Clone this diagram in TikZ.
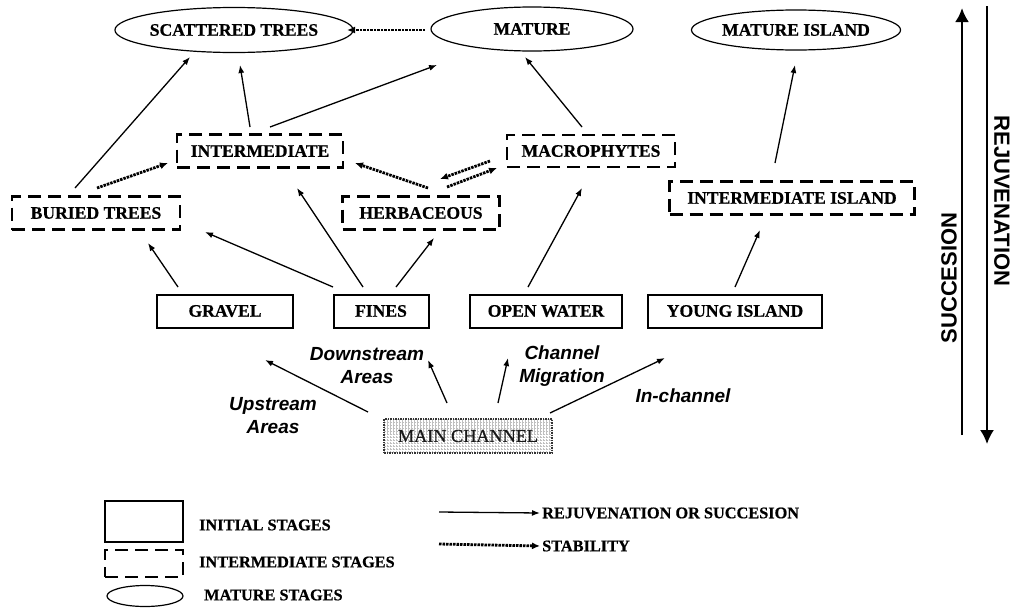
\documentclass[tikz,border=0pt]{standalone}
\usepackage{fontspec}
\setmainfont{Liberation Serif}
\newfontfamily\arialf{Liberation Sans}
\newfontfamily\tnr[FakeBold=0.6]{Liberation Serif}
\usetikzlibrary{shapes.geometric,arrows.meta,calc,patterns}
\begin{document}
\begin{tikzpicture}[x=1pt,y=-1pt,
  lbl/.style={font=\tnr\bfseries\fontsize{17.6}{20}\selectfont, inner sep=0pt, minimum height=33pt},
  initbox/.style={lbl, draw, line width=2pt},
  interbox/.style={lbl, draw, line width=2.6pt, dash pattern=on 13pt off 7pt},
  matell/.style={lbl, ellipse, draw, line width=1.2pt},
  arr/.style={line width=1.3pt, -{Latex[length=8pt,width=6pt]}},
  stab/.style={line width=2.8pt, dash pattern=on 2.5pt off 1pt, -{Latex[length=8pt,width=7pt]}},
  proc/.style={font=\arialf\bfseries\itshape\fontsize{19}{23}\selectfont, align=center, inner sep=0pt},
  side/.style={font=\arialf\bfseries\fontsize{22}{24}\selectfont, inner sep=0pt},
  leg/.style={font=\tnr\bfseries\fontsize{16.3}{19}\selectfont, anchor=west, inner sep=2pt}
]
\useasboundingbox (0,0) rectangle (1014,608);
\fill[white] (0,0) rectangle (1014,608);

% mature stages
\node[matell, minimum width=222pt, minimum height=45pt] (sc) at (234,30) {SCATTERED TREES};
\node[matell, minimum width=202pt, minimum height=44pt] (ma) at (532,29) {MATURE};
\node[matell, minimum width=198pt, minimum height=40pt] (mi) at (796,30) {MATURE ISLAND};

% intermediate stages
\node[interbox, minimum width=166pt] (in) at (260,151) {INTERMEDIATE};
\node[interbox, minimum width=168pt] (bt) at (96,213) {BURIED TREES};
\node[interbox, minimum width=157pt] (hb) at (421,213) {HERBACEOUS};
\node[interbox, minimum width=168pt, minimum height=32pt] (mc) at (591,151) {MACROPHYTES};
\node[interbox, minimum width=245pt] (ii) at (792,198) {INTERMEDIATE ISLAND};

% initial stages
\node[initbox, minimum width=136pt] (gr) at (225,311) {GRAVEL};
\node[initbox, minimum width=95pt] (fi) at (381,311) {FINES};
\node[initbox, minimum width=152pt] (ow) at (546,311) {OPEN WATER};
\node[initbox, minimum width=174pt] (yi) at (735,311) {YOUNG ISLAND};

% main channel
\node[draw=black!80, line width=1.5pt, dash pattern=on 1.5pt off 1pt,
      pattern=grid, pattern color=black!25, minimum width=168pt, minimum height=34pt,
      inner sep=0pt, text=black!90, font=\tnr\fontsize{18.2}{20}\selectfont] (mch) at (468,436) {MAIN CHANNEL};

% connectors
\draw[stab] ($(ma)+(-107,1)$) -- ($(sc)+(113,0)$);
\draw[arr] ($(in)+(-10,-24)$) -- ($(sc)+(6,35)$);
\draw[arr] ($(in)+(10,-24)$) -- ($(ma)+(-95,36)$);
\draw[arr] ($(bt)+(-21,-25)$) -- ($(sc)+(-44,27)$);
\draw[stab] ($(bt)+(1,-25)$) -- ($(in)+(-92,12)$);
\draw[stab] ($(hb)+(7,-25)$) -- ($(in)+(95,12)$);
\draw[stab] ($(mc)+(-101,10)$) -- ($(hb)+(19,-34)$);
\draw[stab] ($(hb)+(26,-26)$) -- ($(mc)+(-94,17)$);
\draw[arr] ($(mc)+(-9,-24)$) -- ($(ma)+(-7,28)$);
\draw[arr] ($(ii)+(-17,-35)$) -- ($(mi)+(-1,35)$);
\draw[arr] ($(fi)+(-48,-24)$) -- ($(bt)+(109,19)$);
\draw[arr] ($(gr)+(-47,-24)$) -- ($(bt)+(52,30)$);
\draw[arr] ($(fi)+(-18,-24)$) -- ($(in)+(37,37)$);
\draw[arr] ($(fi)+(15,-24)$) -- ($(hb)+(13,25)$);
\draw[arr] ($(ow)+(-18,-24)$) -- ($(mc)+(-9,37)$);
\draw[arr] ($(yi)+(0,-24)$) -- ($(ii)+(-32,32)$);
\draw[arr] ($(mch)+(-100,-24)$) -- ($(gr)+(40,49)$);
\draw[arr] ($(mch)+(-21,-33)$) -- ($(fi)+(47,49)$);
\draw[arr] ($(mch)+(30,-33)$) -- ($(ow)+(-38,47)$);
\draw[arr] ($(mch)+(82,-23)$) -- ($(yi)+(-70,47)$);

% process labels
\node[proc] (lup) at (273,416) {Upstream\\Areas};
\node[proc] (ldown) at (367,366) {Downstream\\Areas};
\node[proc] (lmig) at (562,366) {Channel\\Migration};
\node[proc] (lin) at (683,396) {In-channel};

% side arrows
\coordinate (sb) at (962,435);
\coordinate (st) at (962,8);
\coordinate (rt) at (987,6);
\coordinate (rb) at (987,444);
\draw[line width=2.6pt, -{Latex[length=14pt,width=14pt]}] (sb) -- (st);
\draw[line width=1.8pt, -{Latex[length=14pt,width=14pt]}] (rt) -- (rb);
\node[side, rotate=90] (lsuc) at (949,278) {SUCCESION};
\node[side, rotate=-90] (lrej) at (1002,201) {REJUVENATION};

% legend
\node[draw, line width=2pt, minimum width=78pt, minimum height=41pt, inner sep=0pt] (k1) at (144,521.5) {};
\node[draw, line width=2.6pt, dash pattern=on 13pt off 7pt, minimum width=78pt, minimum height=27pt, inner sep=0pt] (k2) at (144,563.5) {};
\node[draw, ellipse, line width=1.2pt, minimum width=76pt, minimum height=21pt, inner sep=0pt] (k3) at (145,596) {};
\node[leg] (t1) at (197,525) {INITIAL STAGES};
\node[leg] (t2) at (197,562) {INTERMEDIATE STAGES};
\node[leg] (t3) at (202,595) {MATURE STAGES};
\node[leg] (t4) at (540,513) {REJUVENATION OR SUCCESION};
\node[leg] (t5) at (540,546) {STABILITY};
\coordinate (a4) at (439,512);
\coordinate (a5) at (439,544);
\draw[arr] (a4) -- (t4.west);
\draw[stab] (a5) -- (t5.west);
\end{tikzpicture}
\end{document}
